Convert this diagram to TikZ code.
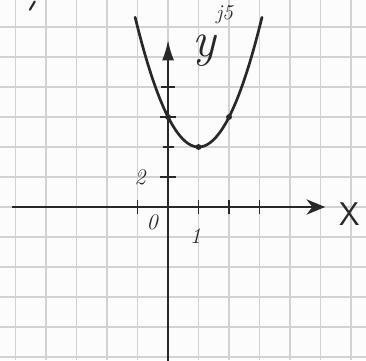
\documentclass[tikz,border=0pt]{standalone}
\usepackage{fontspec}
\usepackage{tikz}
\usetikzlibrary{arrows.meta}
\definecolor{ink}{RGB}{40,40,40}
\definecolor{paper}{RGB}{252,252,252}
\definecolor{gridline}{RGB}{210,210,210}
\begin{document}
\begin{tikzpicture}[x=0.915cm, y=0.45cm,
      gridl/.style={gridline, line width=1pt},
      axis/.style={ink, line width=2pt},
      tickl/.style={ink, line width=1.6pt},
      curve/.style={ink, line width=2.3pt, line cap=round},
      dotmark/.style={circle, fill=ink, inner sep=0pt, minimum size=5pt},
      hand/.style={ink, inner sep=0pt, font=\fontsize{19}{19}\selectfont\itshape}]
    % ----- sheet and squares
    \fill[paper] (-5.51,-10.2) rectangle (6.49,13.8);
    \useasboundingbox (-5.51,-10.2) rectangle (6.49,13.8);
    \foreach \gx in {-5,...,6}
      \draw[gridl] (\gx,-10.2) -- (\gx,13.8);
    \foreach \gy in {-10,-8,...,12}
      \draw[gridl] (-5.51,\gy) -- (6.49,\gy);
    % ----- axes
    \coordinate (xs) at (-5.11,0);
    \coordinate (xe) at (5.15,0);
    \coordinate (ys) at (0,-10.3);
    \coordinate (ye) at (0,11.15);
    \draw[axis, -{Stealth[length=5.6mm, width=4.6mm, inset=1.8mm]}] (xs) -- (xe);
    \draw[axis, -{Latex[length=6.2mm, width=3.6mm]}] (ys) -- (ye);
    \node[hand, font=\fontsize{28}{28}\selectfont\sffamily] (xl) at (5.97,-0.45) {X};
    \node[hand, font=\fontsize{42}{42}\selectfont\itshape] (yl) at (1.2,10.4) {y};
    % ----- ticks
    \foreach \tx in {-1,1,2,3}
      \draw[tickl] (\tx,-0.45) -- (\tx,0.45);
    \foreach \ty/\tw in {2/0.27,4/0.18,6/0.25,8/0.22}
      \draw[tickl] (-\tw,\ty) -- (\tw,\ty);
    \node[hand] (l0) at (-0.52,-1.05) {0};
    \node[hand] (l1) at (0.9,-1.95) {1};
    \node[hand] (l2) at (-0.92,1.95) {2};
    % ----- parabola
    \draw[curve] plot[domain=-1.08:3.08, samples=60] (\x,{2*(\x-1)^2+4});
    \node[dotmark] (p0) at (0,6) {};
    \node[dotmark] (p1) at (1,4) {};
    \node[dotmark] (p2) at (2,6) {};
    % ----- heading fragments at the top edge
    \draw[curve, line width=1.8pt] (-4.53,13.15) -- (-4.37,13.7);
    \node[hand, font=\fontsize{18}{18}\selectfont\itshape] (hd) at (1.85,12.85) {j5};
  \end{tikzpicture}
\end{document}
